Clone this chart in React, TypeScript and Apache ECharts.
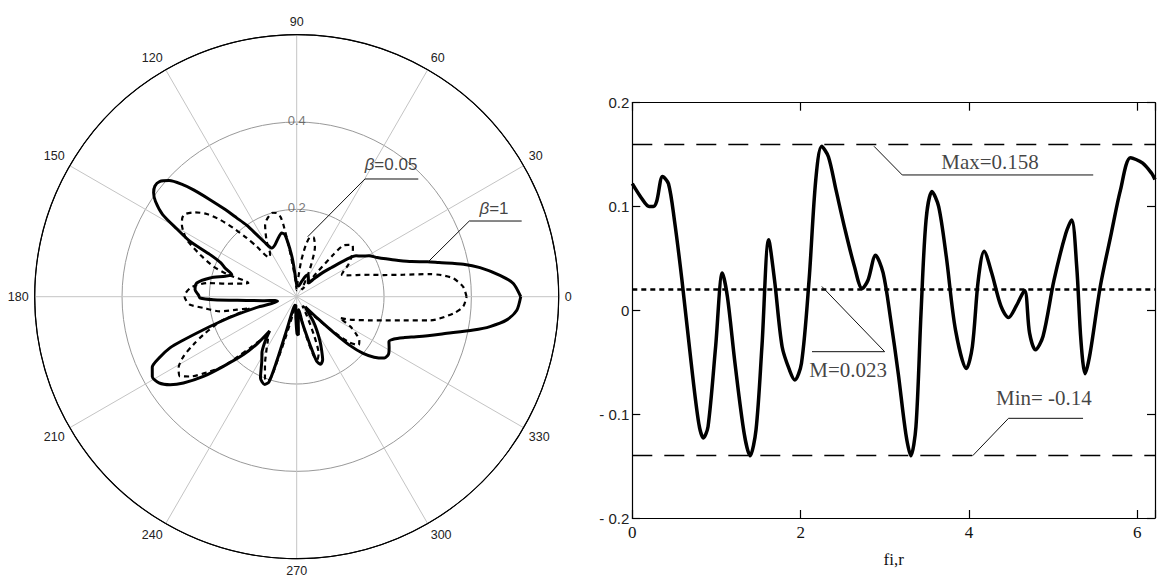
import React, { useEffect, useRef } from "react";
import * as echarts from "echarts";

// ---------- Polar chart data (angle in degrees, radius) ----------
const BETA1_ANGLES = [
  0, 3.5, 6, 9, 11, 13.5, 15, 17, 20, 23, 26, 29.5, 32, 34.6, 37, 40, 43, 46, 49,
  56, 62, 66, 72, 80, 88, 93, 96, 98, 100.7, 103.3, 107.4, 112.6, 117, 120, 122.8,
  125, 127.3, 129.5, 131.8, 134, 135.5, 137.7, 140, 142, 144, 146, 148.5, 150.5,
  152.6, 154.1, 156, 158.2, 161.3, 164, 167.8, 172.2, 176.1, 179, 180.8, 182.1,
  184.2, 187, 190, 193.5, 195, 196.7, 198.3, 199.5, 201, 202, 204, 206, 209, 212,
  214.8, 217.3, 220.5, 223.5, 227.4, 230, 231.7, 234.7, 238, 241.6, 246, 250, 252,
  252.8, 253.2, 254, 258, 264, 268, 270.5, 272.5, 275, 279, 282, 285.5, 287.2,
  289.6, 292.4, 295, 297.6, 301, 304, 307, 310, 314, 316, 317.5, 319.5, 322, 325,
  328, 331, 334, 336.5, 339, 342, 346.3, 349.3, 351.2, 353.7, 356.5, 360,
];
const BETA1_R = [
  0.513, 0.497, 0.468, 0.425, 0.389, 0.335, 0.31, 0.275, 0.244, 0.222, 0.205, 0.19,
  0.176, 0.165, 0.14, 0.103, 0.08, 0.058, 0.042, 0.048, 0.056, 0.052, 0.037, 0.025,
  0.025, 0.04, 0.08, 0.109, 0.1445, 0.15, 0.141, 0.129, 0.125, 0.14, 0.169, 0.2,
  0.227, 0.26, 0.298, 0.34, 0.366, 0.395, 0.41, 0.412, 0.405, 0.39, 0.36, 0.315,
  0.275, 0.2205, 0.19, 0.1768, 0.157, 0.17, 0.203, 0.231, 0.2333, 0.225, 0.2214,
  0.191, 0.115, 0.075, 0.05, 0.045, 0.09, 0.1435, 0.19, 0.2267, 0.28, 0.313, 0.345,
  0.368, 0.378, 0.372, 0.353, 0.326, 0.281, 0.2316, 0.18, 0.14, 0.1, 0.125, 0.15,
  0.168, 0.204, 0.214, 0.205, 0.155, 0.091, 0.03, 0.02, 0.02, 0.05, 0.085, 0.088,
  0.04, 0.03, 0.06, 0.114, 0.155, 0.164, 0.156, 0.135, 0.115, 0.089, 0.068, 0.04,
  0.03, 0.07, 0.12, 0.165, 0.2, 0.225, 0.245, 0.248, 0.242, 0.235, 0.243, 0.262,
  0.295, 0.354, 0.412, 0.448, 0.484, 0.505, 0.513,
];

const BETA005_ANGLES = [
  0, 3.4, 6.7, 8.5, 9.6, 11.65, 14, 16.7, 20, 23, 26, 28.5, 31.8, 36.3, 40, 42.5,
  45, 47.7, 48.9, 50, 52, 56, 62, 66, 70, 74, 77, 80, 83, 86, 90, 94, 97, 99, 100.5,
  101.5, 103.4, 106, 108, 111, 113.7, 118.5, 122, 125, 128.5, 130.4, 132.7, 134.9,
  137.4, 140.3, 143.5, 145.5, 148, 150, 152.6, 156.5, 160, 162.2, 164.2, 166, 169.5,
  171.2, 173.5, 175.4, 178, 180, 182, 184.3, 186.9, 190.8, 192.2, 194, 196, 198,
  202.2, 204.9, 207.8, 211.1, 214.3, 216.8, 220.7, 223.5, 225.6, 227.7, 230, 233,
  236, 239.7, 245, 248.7, 251, 252.5, 253.5, 255, 258, 263, 268, 270.5, 272.5, 275,
  280, 284, 286, 288, 291, 294, 298, 302, 306, 312, 316, 319, 322, 325, 328, 331,
  333.8, 336.7, 342.1, 345, 347.5, 349.9, 353.9, 356.6, 360,
];
const BETA005_R = [
  0.389, 0.382, 0.361, 0.335, 0.31, 0.249, 0.205, 0.175, 0.145, 0.125, 0.115, 0.122,
  0.139, 0.156, 0.168, 0.174, 0.168, 0.159, 0.128, 0.07, 0.025, 0.02, 0.05, 0.084,
  0.122, 0.141, 0.14, 0.12, 0.08, 0.035, 0.015, 0.035, 0.07, 0.12, 0.168, 0.187,
  0.197, 0.2, 0.1975, 0.19, 0.18, 0.144, 0.115, 0.11, 0.147, 0.177, 0.214, 0.249,
  0.28, 0.3025, 0.318, 0.318, 0.31, 0.3, 0.2837, 0.241, 0.203, 0.164, 0.115, 0.125,
  0.163, 0.2047, 0.232, 0.245, 0.254, 0.2567, 0.253, 0.245, 0.215, 0.179, 0.14,
  0.11, 0.14, 0.184, 0.231, 0.261, 0.293, 0.316, 0.3235, 0.305, 0.262, 0.2316, 0.191,
  0.159, 0.13, 0.11, 0.118, 0.136, 0.172, 0.2, 0.205, 0.19, 0.14, 0.09, 0.04, 0.02,
  0.05, 0.08, 0.08, 0.035, 0.04, 0.1, 0.14, 0.152, 0.14, 0.1, 0.05, 0.025, 0.03,
  0.06, 0.11, 0.16, 0.18, 0.175, 0.16, 0.14, 0.11, 0.133, 0.176, 0.21, 0.25, 0.31,
  0.361, 0.382, 0.389,
];

const RING_VALUES = [0.2, 0.4];
const ANGLE_LABEL_STEP = 30;

// ---------- Cartesian chart data ----------
const FI = [
  0, 0.11, 0.2, 0.25, 0.29, 0.36, 0.43, 0.5, 0.59, 0.7, 0.79, 0.845, 0.9, 0.99,
  1.07, 1.13, 1.22, 1.33, 1.4, 1.47, 1.54, 1.62, 1.69, 1.78, 1.87, 1.93, 2.01, 2.1,
  2.18, 2.25, 2.33, 2.42, 2.53, 2.64, 2.73, 2.8, 2.89, 2.98, 3.07, 3.16, 3.25, 3.31,
  3.37, 3.43, 3.49, 3.56, 3.64, 3.73, 3.84, 3.97, 4.04, 4.11, 4.18, 4.27, 4.38,
  4.47, 4.56, 4.66, 4.72, 4.79, 4.88, 5.01, 5.15, 5.22, 5.28, 5.33, 5.38, 5.44,
  5.56, 5.69, 5.8, 5.92, 6.06, 6.17, 6.21,
];
const R_VALUES = [
  0.122, 0.108, 0.1, 0.1, 0.105, 0.129, 0.122, 0.087, 0.029, -0.051, -0.109, -0.123,
  -0.112, -0.035, 0.036, 0.013, -0.051, -0.119, -0.14, -0.115, -0.035, 0.068, 0.029,
  -0.035, -0.058, -0.067, -0.051, 0.029, 0.126, 0.158, 0.148, 0.116, 0.077, 0.042,
  0.021, 0.029, 0.053, 0.036, -0.009, -0.061, -0.119, -0.14, -0.112, -0.003, 0.087,
  0.1145, 0.1, 0.052, -0.019, -0.056, -0.035, 0.029, 0.057, 0.036, 0.004, -0.007,
  0.004, 0.019, -0.022, -0.038, -0.025, 0.029, 0.074, 0.087, 0.042, -0.029, -0.061,
  -0.041, 0.023, 0.074, 0.116, 0.147, 0.142, 0.132, 0.126,
];
const MAX_VALUE = 0.158;
const MEAN_VALUE = 0.023;
const MIN_VALUE = -0.14;
const X_MAX = 6.21;

// ---------- Layout constants ----------
const SERIF = "Liberation Serif";
const SANS = "Liberation Sans";

// annotation anchors (polar: [radius, angle]; cartesian: [x, y])
const BETA005_LEADER = [[0.1397, 79.6], [0.3116, 59.9], [0.3875, 44.06]];
const BETA1_LEADER = [[0.3119, 14.9], [0.4316, 23.68], [0.5436, 18.59]];
const BETA005_LABEL_POS = [0.371, 54.4];
const BETA1_LABEL_POS = [0.4953, 24.2];

const MAX_LEADER = [[2.872, MAX_VALUE], [3.207, 0.1304], [5.476, 0.1304]];
const MEAN_LEADER = [[2.252, MEAN_VALUE], [2.998, -0.0398], [2.135, -0.0398]];
const MIN_LEADER = [[4.044, MIN_VALUE], [4.47, -0.104], [5.355, -0.104]];
const MAX_LABEL_POS = [4.25, 0.1429];
const MEAN_LABEL_POS = [2.565, -0.0574];
const MIN_LABEL_POS = [4.89, -0.0847];

export default function App() {
  const ref = useRef<HTMLDivElement>(null);

  useEffect(() => {
    if (!ref.current) return;
    const chart = echarts.init(ref.current, undefined, { renderer: "svg" });

    const polarData = (angles: number[], radii: number[]) =>
      angles.map((a, i) => [radii[i], a]);

    const leaderSeries = (data: number[][], coord: "polar" | "cartesian2d") => ({
      type: "line",
      coordinateSystem: coord,
      data,
      symbol: "none",
      silent: true,
      lineStyle: { color: "#111", width: 1 },
      z: 5,
    });

    const textSeries = (
      pos: number[],
      text: string,
      coord: "polar" | "cartesian2d",
      style: any
    ) => ({
      type: "scatter",
      coordinateSystem: coord,
      data: [pos],
      symbolSize: 0,
      silent: true,
      z: 6,
      label: {
        show: true,
        position: "inside",
        formatter: text,
        ...style,
      },
    });

    const betaRich = {
      i: { fontFamily: SANS, fontSize: 17, fontStyle: "italic", color: "#111" },
      n: { fontFamily: SANS, fontSize: 17, color: "#111" },
    };

    const yFmt = (v: number) => {
      if (Math.abs(v) < 1e-9) return "0";
      return v < 0 ? "- " + Math.abs(v).toFixed(1) : v.toFixed(1);
    };
    const xFmt = (v: number) =>
      Math.abs(v / 2 - Math.round(v / 2)) < 1e-9 ? String(Math.round(v)) : "";

    const frameLine = { show: true, onZero: false, lineStyle: { color: "#000", width: 1.2 } };
    const innerTick = { show: true, inside: true, length: 8, lineStyle: { color: "#000", width: 1.2 } };

    const option: any = {
      animation: false,
      backgroundColor: "#ffffff",
      polar: { center: [296.7, 296.7], radius: 262 },
      angleAxis: {
        type: "value",
        min: 0,
        max: 360,
        interval: ANGLE_LABEL_STEP,
        startAngle: 0,
        clockwise: false,
        axisLine: { show: true, lineStyle: { color: "#000", width: 1.2 } },
        axisTick: { show: false },
        axisLabel: {
          margin: 6,
          color: "#222",
          fontFamily: SANS,
          fontSize: 12.5,
          formatter: (v: number) => (v >= 360 ? "" : String(v)),
        },
        splitLine: { show: true, lineStyle: { color: "#c4c4c4", width: 1 } },
      },
      radiusAxis: {
        type: "value",
        min: 0,
        max: 0.6,
        interval: 0.2,
        axisLine: { show: false },
        axisTick: { show: false },
        axisLabel: { show: false },
        splitLine: {
          show: true,
          lineStyle: { color: ["#999", "#999", "#999", "#000"], width: 1 },
        },
      },
      grid: { left: 632.3, top: 102.7, right: 1, bottom: 62, containLabel: false },
      xAxis: [
        {
          type: "value",
          position: "bottom",
          min: 0,
          max: X_MAX,
          interval: 2,
          axisLine: frameLine,
          axisTick: innerTick,
          splitLine: { show: false },
          axisLabel: {
            margin: 6,
            color: "#111",
            fontFamily: SERIF,
            fontSize: 17,
            formatter: xFmt,
          },
          name: "fi,r",
          nameLocation: "middle",
          nameGap: 33,
          nameTextStyle: { fontFamily: SERIF, fontSize: 17, color: "#111" },
        },
        {
          type: "value",
          position: "top",
          min: 0,
          max: X_MAX,
          interval: 2,
          axisLine: frameLine,
          axisTick: innerTick,
          splitLine: { show: false },
          axisLabel: { show: false },
        },
      ],
      yAxis: [
        {
          type: "value",
          position: "left",
          min: -0.2,
          max: 0.2,
          interval: 0.1,
          axisLine: frameLine,
          axisTick: innerTick,
          splitLine: { show: false },
          axisLabel: {
            margin: 3,
            color: "#222",
            fontFamily: SANS,
            fontSize: 15,
            formatter: yFmt,
          },
        },
        {
          type: "value",
          position: "right",
          min: -0.2,
          max: 0.2,
          interval: 0.1,
          axisLine: frameLine,
          axisTick: innerTick,
          splitLine: { show: false },
          axisLabel: { show: false },
        },
      ],
      series: [
        // polar curves
        {
          type: "line",
          name: "β=0.05",
          coordinateSystem: "polar",
          data: polarData(BETA005_ANGLES, BETA005_R),
          symbol: "none",
          smooth: 0.25,
          lineStyle: { color: "#000", width: 2.2, type: [5, 4] },
          z: 3,
        },
        {
          type: "line",
          name: "β=1",
          coordinateSystem: "polar",
          data: polarData(BETA1_ANGLES, BETA1_R),
          symbol: "none",
          smooth: 0.25,
          lineStyle: { color: "#000", width: 3 },
          z: 4,
        },
        {
          type: "scatter",
          coordinateSystem: "polar",
          data: RING_VALUES.map((r) => [r, 90]),
          symbolSize: 0,
          silent: true,
          label: {
            show: true,
            position: "inside",
            offset: [0, -2],
            color: "#555",
            fontFamily: SANS,
            fontSize: 13,
            formatter: (p: any) => String(p.value[0]),
          },
        },
        leaderSeries(BETA005_LEADER, "polar"),
        leaderSeries(BETA1_LEADER, "polar"),
        textSeries(BETA005_LABEL_POS, "{i|β}{n|=0.05}", "polar", { rich: betaRich }),
        textSeries(BETA1_LABEL_POS, "{i|β}{n|=1}", "polar", { rich: betaRich }),
        // cartesian curve
        {
          type: "line",
          coordinateSystem: "cartesian2d",
          xAxisIndex: 0,
          yAxisIndex: 0,
          data: FI.map((x, i) => [x, R_VALUES[i]]),
          symbol: "none",
          smooth: 0.3,
          lineStyle: { color: "#000", width: 3.5 },
          z: 4,
          markLine: {
            silent: true,
            symbol: ["none", "none"],
            label: { show: false },
            data: [
              { yAxis: MAX_VALUE, lineStyle: { color: "#000", width: 1.3, type: [20, 12] } },
              { yAxis: MIN_VALUE, lineStyle: { color: "#000", width: 1.3, type: [20, 12] } },
              { yAxis: MEAN_VALUE, lineStyle: { color: "#000", width: 2.5, type: [5, 4] } },
            ],
          },
        },
        { ...leaderSeries(MAX_LEADER, "cartesian2d"), xAxisIndex: 0, yAxisIndex: 0 },
        { ...leaderSeries(MEAN_LEADER, "cartesian2d"), xAxisIndex: 0, yAxisIndex: 0 },
        { ...leaderSeries(MIN_LEADER, "cartesian2d"), xAxisIndex: 0, yAxisIndex: 0 },
        {
          ...textSeries(MAX_LABEL_POS, "Max=0.158", "cartesian2d", {
            fontFamily: SERIF, fontSize: 21, color: "#111",
          }),
          xAxisIndex: 0,
          yAxisIndex: 0,
        },
        {
          ...textSeries(MEAN_LABEL_POS, "M=0.023", "cartesian2d", {
            fontFamily: SERIF, fontSize: 21, color: "#111",
          }),
          xAxisIndex: 0,
          yAxisIndex: 0,
        },
        {
          ...textSeries(MIN_LABEL_POS, "Min= -0.14", "cartesian2d", {
            fontFamily: SERIF, fontSize: 21, color: "#111",
          }),
          xAxisIndex: 0,
          yAxisIndex: 0,
        },
      ],
    };

    chart.setOption(option);
    return () => chart.dispose();
  }, []);

  return (
    <div
      ref={ref}
      style={{
        position: "fixed",
        left: 0,
        top: 0,
        width: 1158,
        height: 580,
        background: "#fff",
      }}
    />
  );
}
